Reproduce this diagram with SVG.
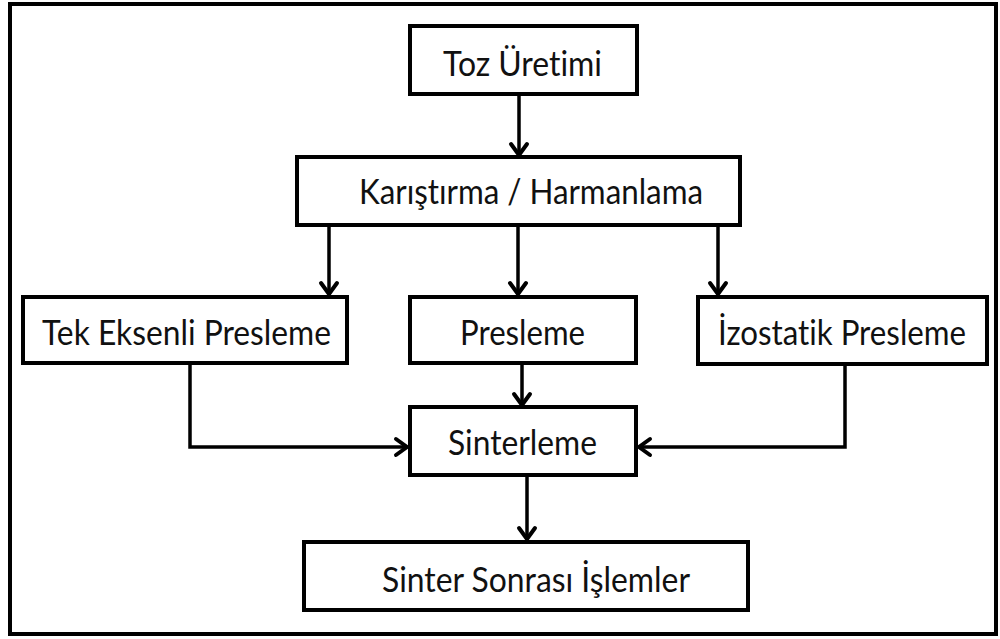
<svg xmlns="http://www.w3.org/2000/svg" width="1000" height="639" viewBox="0 0 1000 639">
<style>
.box{fill:#fff;stroke:#000;stroke-width:4}
.lbl{font-family:Lato,"Open Sans","Liberation Sans",sans-serif;font-size:35px;fill:#111;font-variant-ligatures:none}
.con{fill:none;stroke:#000;stroke-width:3.5;marker-end:url(#ah)}
</style>
<defs>
<marker id="ah" markerUnits="userSpaceOnUse" markerWidth="30" markerHeight="30" refX="0" refY="0" viewBox="-15 -15 30 30" orient="auto" overflow="visible">
<path d="M-11,-8 L0,0 L-11,8" fill="none" stroke="#000" stroke-width="4" stroke-linecap="round" stroke-linejoin="miter"/>
</marker>
</defs>
<rect x="0" y="0" width="1000" height="639" fill="#fff"/>
<rect x="10" y="4" width="986" height="630" fill="none" stroke="#000" stroke-width="4"/>
<g id="connectors">
<path class="con" d="M519,94 L519,155"/>
<path class="con" d="M329,225 L329,294"/>
<path class="con" d="M518,225 L518,294"/>
<path class="con" d="M718,225 L718,294"/>
<path class="con" d="M522,363 L522,405"/>
<path class="con" d="M190,363 L190,447 L407,447"/>
<path class="con" d="M845,364 L845,447 L639,447"/>
<path class="con" d="M527,475 L527,539"/>
</g>
<g id="n_toz"><rect class="box" x="410" y="26" width="227" height="68"/><text class="lbl" x="443" y="76" textLength="159" lengthAdjust="spacingAndGlyphs">Toz Üretimi</text></g>
<g id="n_karistirma"><rect class="box" x="297" y="157" width="443" height="68"/><text class="lbl" x="359" y="204" textLength="344" lengthAdjust="spacingAndGlyphs">Karıştırma / Harmanlama</text></g>
<g id="n_tek"><rect class="box" x="23" y="297" width="324" height="66"/><text class="lbl" x="42" y="345" textLength="289" lengthAdjust="spacingAndGlyphs">Tek Eksenli Presleme</text></g>
<g id="n_presleme"><rect class="box" x="410" y="297" width="226" height="66"/><text class="lbl" x="460" y="345" textLength="125" lengthAdjust="spacingAndGlyphs">Presleme</text></g>
<g id="n_izostatik"><rect class="box" x="698" y="297" width="289" height="67"/><text class="lbl" x="718" y="345" textLength="248" lengthAdjust="spacingAndGlyphs">İzostatik Presleme</text></g>
<g id="n_sinterleme"><rect class="box" x="410" y="407" width="226" height="68"/><text class="lbl" x="448" y="455" textLength="149" lengthAdjust="spacingAndGlyphs">Sinterleme</text></g>
<g id="n_sonrasi"><rect class="box" x="304" y="542" width="444" height="68"/><text class="lbl" x="382" y="592" textLength="308" lengthAdjust="spacingAndGlyphs">Sinter Sonrası İşlemler</text></g>
</svg>
